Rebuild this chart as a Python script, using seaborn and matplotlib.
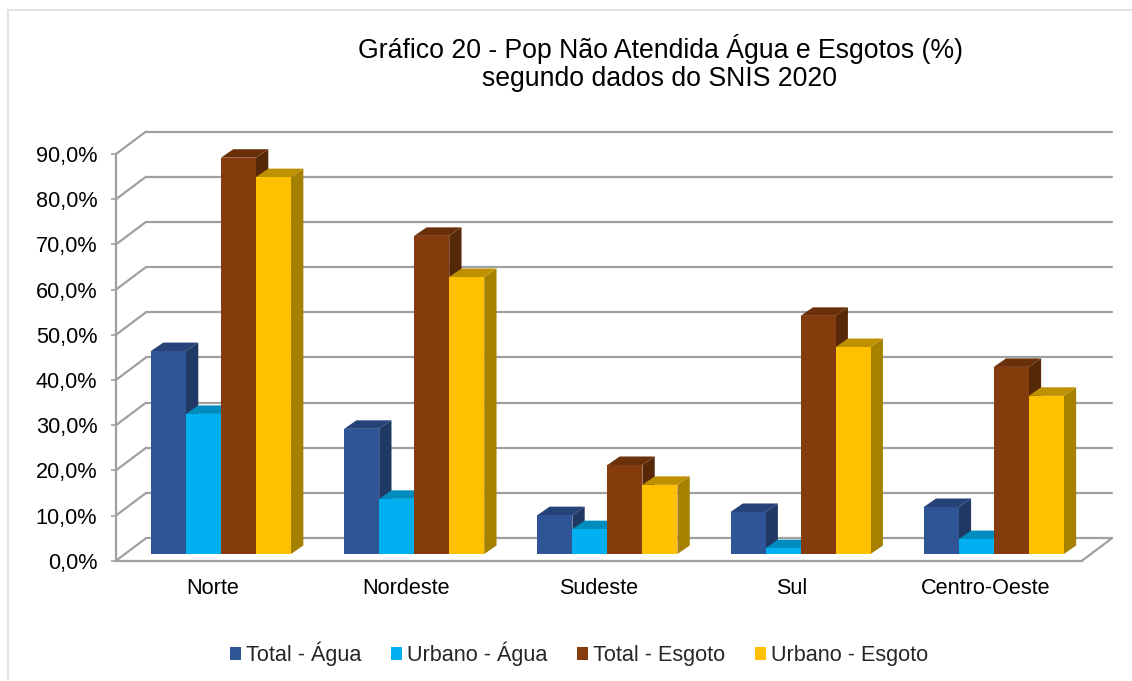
import numpy as np
import pandas as pd
import matplotlib
matplotlib.use("Agg")
import matplotlib.pyplot as plt
from matplotlib.lines import Line2D
from matplotlib.patches import Polygon, Rectangle
from matplotlib.transforms import offset_copy
import seaborn as sns

regioes = ["Norte", "Nordeste", "Sudeste", "Sul", "Centro-Oeste"]
series = ["Total - Água", "Urbano - Água", "Total - Esgoto", "Urbano - Esgoto"]
total_agua = [44.9, 27.7, 8.6, 9.3, 10.4]
urbano_agua = [31.0, 12.2, 5.5, 1.3, 3.3]
total_esgoto = [87.7, 70.4, 19.7, 52.7, 41.4]
urbano_esgoto = [83.4, 61.3, 15.3, 45.8, 35.0]
yticks = [0, 10, 20, 30, 40, 50, 60, 70, 80, 90]

cores = ["#2F5597", "#00B0F0", "#843C0C", "#FFC000"]
cores_lado = ["#1F3864", "#00759F", "#562808", "#A68000"]
cores_topo = ["#254379", "#008CBF", "#6A300A", "#BF9000"]
GRID = "#A0A0A0"

W, H = 1132, 681
sns.set_style("white")
plt.rcParams["font.family"] = ["Liberation Sans", "DejaVu Sans"]

df = pd.DataFrame({"Região": regioes, series[0]: total_agua, series[1]: urbano_agua,
                   series[2]: total_esgoto, series[3]: urbano_esgoto})
df = df.melt(id_vars="Região", var_name="Série", value_name="Pct")

fig = plt.figure(figsize=(W / 100, H / 100), dpi=100)
# eixo = plano frontal do piso do grafico 3D
ax = fig.add_axes([116 / W, 1 - 560.7 / H, 966 / W, (560.7 - 154) / H])
sns.barplot(data=df, x="Região", y="Pct", hue="Série", order=regioes, hue_order=series,
            palette=cores, width=0.725, gap=0, saturation=1, ax=ax, legend=True)
ax.set_xlim(-0.5, 4.5)
ax.set_ylim(0, 90)
ax.set_xlabel("")
ax.set_ylabel("")

px_x = 5 / 966
px_y = 90 / (560.7 - 154)
# deslocamentos de profundidade em pixels
plano_barra = offset_copy(ax.transData, fig=fig, x=8.4, y=6.7, units="dots")
plano_fundo = (30, 22.5)
prof_barra = (12.3 * px_x, 8.5 * px_y)

# paredes e grade
fundo_x = [-0.5 + plano_fundo[0] * px_x, 4.5 + plano_fundo[0] * px_x]
for v in yticks:
    yb = v + plano_fundo[1] * px_y
    ax.plot(fundo_x, [yb, yb], color=GRID, lw=1.6, clip_on=False, zorder=1)
    ax.plot([-0.5, fundo_x[0]], [v, yb], color=GRID, lw=1.6, clip_on=False, zorder=1)
ax.plot([4.5, fundo_x[1]], [0, plano_fundo[1] * px_y], color=GRID, lw=1.6, clip_on=False, zorder=1)

# faces das barras
barras = [b for b in ax.patches if isinstance(b, Rectangle) and b.get_height() > 0]
barras = sorted(barras, key=lambda b: b.get_x())
for i, b in enumerate(barras):
    k = series.index(df.loc[np.isclose(df["Pct"], b.get_height()), "Série"].iloc[0])
    x0, x1, h = b.get_x(), b.get_x() + b.get_width(), b.get_height()
    dx, dy = prof_barra
    z = 3 + i * 0.01
    lado = Polygon([(x1, 0), (x1 + dx, dy), (x1 + dx, h + dy), (x1, h)], closed=True,
                   facecolor=cores_lado[k], edgecolor="none",
                   transform=plano_barra, clip_on=False, zorder=z)
    topo = Polygon([(x0, h), (x0 + dx, h + dy), (x1 + dx, h + dy), (x1, h)], closed=True,
                   facecolor=cores_topo[k], edgecolor="none",
                   transform=plano_barra, clip_on=False, zorder=z + 0.001)
    ax.add_patch(lado)
    ax.add_patch(topo)
    b.set_transform(plano_barra)
    b.set_clip_on(False)
    b.set_zorder(z + 0.002)
    b.set_edgecolor("none")

# eixos
sns.despine(ax=ax, top=True, right=True)
for lado_eixo in ["left", "bottom"]:
    ax.spines[lado_eixo].set_color(GRID)
    ax.spines[lado_eixo].set_linewidth(1.6)
    ax.spines[lado_eixo].set_zorder(2)
ax.set_yticks(yticks)
ax.set_yticklabels([f"{v:.1f}%".replace(".", ",") for v in yticks])
ax.set_xticks(range(len(regioes)))
ax.set_xticklabels(regioes)
ax.set_xticks(np.arange(-0.5, 5, 1), minor=True)
ax.tick_params(axis="x", which="major", length=0, labelsize=15.6, pad=12.5, labelcolor="black")
ax.tick_params(axis="x", which="minor", length=4, width=1.2, color=GRID)
ax.tick_params(axis="y", length=3.5, width=1.2, color=GRID, labelsize=15.6, pad=10, labelcolor="black",
               left=True)

# legenda
leg = ax.legend(ncol=4, loc="center", bbox_to_anchor=(579 / W, 1 - 654 / H),
                bbox_transform=fig.transFigure, frameon=False, fontsize=15.6,
                handlelength=0.51, handleheight=0.51, handletextpad=0.2, columnspacing=1.4)
for h in leg.get_patches():
    h.set_edgecolor("none")

fig.text(660 / W, 1 - 49 / H, "Gráfico 20 - Pop Não Atendida Água e Esgotos (%)",
         ha="center", va="center", fontsize=19.2, color="black")
fig.text(660 / W, 1 - 79 / H, "segundo dados do SNIS 2020",
         ha="center", va="center", fontsize=19.2, color="black")

# moldura
fig.add_artist(Line2D([8 / W, 8 / W, 1], [0, 1 - 9.5 / H, 1 - 9.5 / H], transform=fig.transFigure,
                      color="#E2E2E2", lw=1.4))

fig.savefig("out.png", dpi=100, facecolor="white")
